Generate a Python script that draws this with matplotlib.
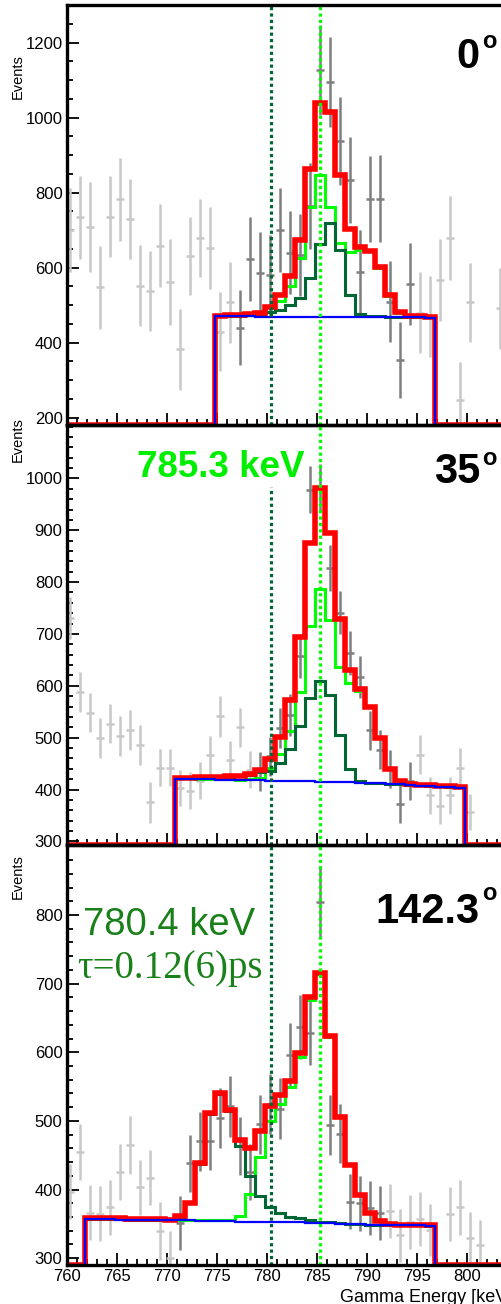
import numpy as np
import matplotlib
matplotlib.use("Agg")
import matplotlib.pyplot as plt
from matplotlib.ticker import MultipleLocator, FixedLocator

plt.rcParams['font.family'] = ['Liberation Sans', 'DejaVu Sans']

nan = np.nan

# ---------------- data ----------------
BIN_CENTERS = 760.35 + np.arange(44)      # 1 keV bins of the spectra
LINE_DARK = 780.4
LINE_LIGHT = 785.3
ANGLES = ['0', '35', '142.3']

# panel 0 deg
data_0 = [700, 734, 709, 547, 736, 782, 729, 551, 538, 658, 562, 382, 631, 680, 653, 429, 507,
          440, 622, 586, 580, 700, 640, 633, 765, 1127, 1096, 937, 833, 589, 782, 784, 509, 353,
          556, 480, 470, 567, 680, 248, 507, nan, nan, 491]
err_0 = [113, 111, 120, 111, 108, 111, 107, 108, 107, 111, 115, 108, 105, 104, 109, 105, 107,
         101, 112, 110, 108, 112, 111, 110, 115, 120, 120, 118, 115, 110, 115, 115, 108, 102,
         110, 108, 108, 110, 112, 100, 106, nan, nan, 107]
dark_0 = (17, 34)
fit_start_0 = 774.8
red_0 = [472, 473, 474, 476, 480, 495, 527, 577, 673, 862, 1040, 1014, 847, 704, 656, 645, 602,
         527, 482, 471, 470, 469]
green_0 = [471, 472, 472, 473, 476, 482, 510, 551, 626, 762, 847, 762, 666, 642, 648, 643, 600,
           525, 480, 470, 469, 468]
dgreen_0 = [471, 471, 472, 473, 474, 482, 486, 500, 518, 571, 664, 720, 647, 527, 476, 471, 470,
            469, 469, 468, 468, 467]
blue_0 = [470, 470, 470, 470, 469, 469, 469, 469, 469, 469, 469, 468, 468, 468, 468, 468, 467,
          467, 467, 467, 467, 466]

# panel 35 deg
data_1 = [731, 588, 548, 499, 527, 503, 515, 486, 375, 442, 442, 403, 398, 417, 467, 541, 457,
          520, 438, 435, 464, 519, 544, 657, 978, 982, 827, 741, 663, 617, 514, 477, 440, 372,
          416, 467, 389, 369, 389, 442, 356, nan, nan, nan]
err_1 = [40, 38, 38, 38, 38, 38, 38, 38, 40, 36, 36, 35, 35, 36, 37, 39, 37, 38, 36, 38, 38, 38,
         40, 42, 45, 45, 44, 42, 42, 40, 38, 38, 37, 36, 37, 38, 36, 35, 36, 38, 35, nan, nan, nan]
dark_1 = (19, 34)
fit_start_1 = 770.8
red_1 = [423, 423, 424, 424, 425, 426, 427, 430, 438, 459, 502, 573, 695, 875, 981, 894, 728,
         631, 593, 559, 499, 440, 416, 410, 409, 408, 407, 406, 405]
green_1 = [422, 422, 421, 421, 420, 420, 419, 420, 423, 441, 468, 512, 588, 715, 786, 726, 636,
           605, 590, 559, 499, 440, 416, 409, 408, 407, 406, 405, 404]
dgreen_1 = [422, 422, 423, 423, 424, 425, 426, 428, 433, 435, 451, 478, 523, 576, 610, 583, 506,
            440, 416, 413, 412, 411, 410, 409, 408, 407, 406, 405, 404]
blue_1 = [421, 421, 420, 420, 419, 419, 418, 418, 418, 417, 417, 417, 416, 416, 415, 415, 414,
          414, 413, 413, 412, 411, 410, 408, 407, 406, 405, 404, 403]

# panel 142.3 deg
data_2 = [397, 455, 366, 365, 374, 425, 465, 403, 417, 340, 300, 351, 438, 470, 471, 504, 521,
          463, 426, 495, 525, 518, 596, 637, 628, 819, 494, 481, 382, 380, 373, 366, 369, 333,
          353, 357, 341, nan, 364, 374, 330, 319, nan, nan]
err_2 = [40, 41, 40, 40, 40, 41, 42, 40, 40, 42, 40, 39, 42, 43, 43, 44, 44, 42, 41, 43, 44, 44,
         46, 47, 47, 52, 44, 43, 40, 40, 40, 39, 39, 38, 39, 39, 38, nan, 39, 40, 37, 37, nan, nan]
dark_2 = (11, 31)
fit_start_2 = 761.8
red_2 = [358, 358, 358, 358, 357, 357, 357, 357, 356, 361, 381, 438, 511, 541, 516, 472, 460,
         485, 521, 538, 558, 599, 680, 716, 623, 506, 436, 392, 366, 354, 350, 349, 349, 348, 348]
green_2 = [358, 358, 358, 357, 357, 357, 357, 356, 356, 356, 356, 355, 355, 356, 356, 361, 394,
           448, 500, 524, 550, 593, 676, 714, 622, 505, 436, 392, 366, 354, 350, 349, 349, 348, 348]
dgreen_2 = [357, 357, 357, 357, 356, 356, 356, 356, 355, 360, 380, 437, 510, 539, 514, 464, 419,
            390, 374, 366, 360, 358, 355, 353, 352, 351, 350, 350, 349, 349, 349, 348, 348, 348, 347]
blue_2 = [357, 357, 357, 356, 356, 356, 356, 355, 355, 355, 355, 354, 354, 354, 354, 353, 353,
          353, 353, 352, 352, 352, 351, 351, 351, 350, 350, 350, 349, 349, 349, 348, 348, 348, 347]

YTICKS_0 = [200, 400, 600, 800, 1000, 1200]
YTICKS_1 = [300, 400, 500, 600, 700, 800, 900, 1000]
YTICKS_2 = [300, 400, 500, 600, 700, 800]
XTICKS = [760, 765, 770, 775, 780, 785, 790, 795, 800]

PANELS = [
    dict(data=data_0, err=err_0, dark=dark_0, start=fit_start_0, red=red_0, green=green_0,
         dgreen=dgreen_0, blue=blue_0, ylim=(180, 1300), ticks=YTICKS_0, minor=50),
    dict(data=data_1, err=err_1, dark=dark_1, start=fit_start_1, red=red_1, green=green_1,
         dgreen=dgreen_1, blue=blue_1, ylim=(293, 1103), ticks=YTICKS_1, minor=20),
    dict(data=data_2, err=err_2, dark=dark_2, start=fit_start_2, red=red_2, green=green_2,
         dgreen=dgreen_2, blue=blue_2, ylim=(290, 902), ticks=YTICKS_2, minor=20),
]

# ---------------- style ----------------
W, H = 502, 1304
XLIM = (760, 806)
C_LGREY = '#c8c8c8'
C_DGREY = '#7f7f7f'
C_RED = '#ff0000'
C_LGREEN = '#00ff00'
C_DGREEN = '#006633'
C_BLUE = '#0000ff'
C_TXTGREEN = '#1a801a'

fig = plt.figure(figsize=(W / 100, H / 100), dpi=100)


def fx(px):
    return px / W


def fy(py):
    return 1 - py / H


panel_px = [(5, 425), (425, 845), (845, 1265)]
axes = []
for i, p in enumerate(PANELS):
    top, bot = panel_px[i]
    ax = fig.add_axes([fx(66.7), 1 - bot / H, 460 / W, (bot - top) / H])
    axes.append(ax)
    ax.set_xlim(*XLIM)
    ax.set_ylim(*p['ylim'])
    y0 = p['ylim'][0]

    data = np.array(p['data'], dtype=float)
    err = np.array(p['err'], dtype=float)
    k = np.arange(len(data))
    lo, hi = p['dark']
    inside = (k >= lo) & (k <= hi)
    for mask, col in ((~inside, C_LGREY), (inside, C_DGREY)):
        ax.errorbar(BIN_CENTERS[mask], data[mask], yerr=err[mask], xerr=0.4, fmt='none',
                    ecolor=col, elinewidth=1.8, capsize=0, zorder=2)

    n = len(p['red'])
    edges = [759.0] + list(p['start'] + np.arange(n + 1)) + [812.0]
    for key, col, lw, z in (('green', C_LGREEN, 2.2, 3), ('dgreen', C_DGREEN, 2.2, 4),
                            ('red', C_RED, 4.0, 5), ('blue', C_BLUE, 1.6, 6)):
        vals = [y0] + list(p[key]) + [y0]
        ax.stairs(vals, edges, baseline=None, color=col, lw=lw, zorder=z)

    ymax_dark = 0.852 if i == 1 else 1.0
    ax.axvline(LINE_DARK, ymax=ymax_dark, color=C_DGREEN, ls=(0, (1, 1)), lw=2.3, zorder=7)
    ax.axvline(LINE_LIGHT, color=C_LGREEN, ls=(0, (1, 1)), lw=2.3, zorder=7)

    ax.yaxis.set_major_locator(FixedLocator(p['ticks']))
    ax.yaxis.set_minor_locator(MultipleLocator(p['minor']))
    ax.xaxis.set_major_locator(FixedLocator(XTICKS))
    ax.xaxis.set_minor_locator(MultipleLocator(1))
    ax.tick_params(which='both', direction='in', top=False, right=False, width=1.3,
                   labelsize=12, pad=3)
    ax.tick_params(which='major', length=8.6)
    ax.tick_params(which='minor', length=4.3)
    if i < 2:
        ax.tick_params(labelbottom=False)
    ax.spines['right'].set_visible(False)
    for s in ('left', 'bottom', 'top'):
        ax.spines[s].set_linewidth(2.4)
        ax.spines[s].set_zorder(10)
    ax.patch.set_alpha(0)

# axis titles
for cy in (76.5, 440, 877):
    fig.text(fx(18), fy(cy), 'Events', rotation=90, ha='center', va='center', fontsize=10.5)
fig.text(fx(340), fy(1302), 'Gamma Energy [keV]', ha='left', va='baseline', fontsize=13)

# angle labels
angle_pos = [(68, 48), (483, 465), (923, 900)]
for a, (base, obase) in zip(ANGLES, angle_pos):
    fig.text(fx(480), fy(base), a, ha='right', va='baseline', fontsize=30, weight='bold')
    fig.text(fx(482), fy(obase), 'o', ha='left', va='baseline', fontsize=17, weight='bold')

fig.text(fx(137), fy(477), '785.3 keV', ha='left', va='baseline', fontsize=26.5,
         weight='bold', color='#00ee00')
fig.text(fx(83), fy(935), '780.4 keV', ha='left', va='baseline', fontsize=27.5,
         color=C_TXTGREEN)
fig.text(fx(77), fy(978), 'τ=0.12(6)ps', ha='left', va='baseline', fontsize=28,
         family=['Liberation Serif', 'DejaVu Serif'], color=C_TXTGREEN)

fig.savefig('out.png', dpi=100)
